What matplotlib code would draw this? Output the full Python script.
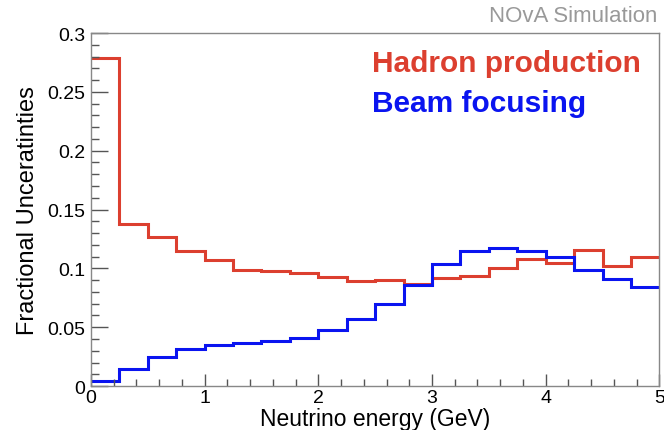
import numpy as np
import matplotlib
matplotlib.use("Agg")
import matplotlib.pyplot as plt
from matplotlib.ticker import MultipleLocator

plt.rcParams["font.family"] = ["Liberation Sans", "DejaVu Sans"]

# Bin edges (GeV) and fractional uncertainties per bin
edges = np.arange(0, 5.0001, 0.25)
hadron = [0.279, 0.138, 0.127, 0.1144, 0.1073, 0.0988, 0.0974, 0.0963, 0.0923, 0.0893,
          0.0905, 0.0866, 0.0917, 0.0934, 0.1000, 0.1076, 0.1048, 0.1155, 0.1020, 0.1093]
beam = [0.0042, 0.0142, 0.0246, 0.0312, 0.0351, 0.0368, 0.0382, 0.0410, 0.0476, 0.0569,
        0.0693, 0.0856, 0.1034, 0.1144, 0.1170, 0.1150, 0.1093, 0.0986, 0.0909, 0.0841]
xticks = [0, 1, 2, 3, 4, 5]
yticks = [0, 0.05, 0.1, 0.15, 0.2, 0.25, 0.3]
ytick_labels = ["0", "0.05", "0.1", "0.15", "0.2", "0.25", "0.3"]

red = "#dc3f2f"
blue = "#0a14f0"

fig = plt.figure(figsize=(6.64, 4.31), dpi=100)
ax = fig.add_axes([0.137, 0.102, 0.856, 0.819])

ax.stairs(hadron, edges, color=red, linewidth=2.2, baseline=None)
ax.stairs(beam, edges, color=blue, linewidth=2.2, baseline=None)

ax.set_xlim(0, 5)
ax.set_ylim(0, 0.3)
ax.set_xticks(xticks)
ax.set_xticklabels([str(t) for t in xticks])
ax.xaxis.set_minor_locator(MultipleLocator(0.2))
ax.set_yticks(yticks)
ax.set_yticklabels(ytick_labels)
ax.yaxis.set_minor_locator(MultipleLocator(0.01))

ax.tick_params(which="both", direction="in", top=False, right=False,
               color="#555555", width=1, labelsize=14)
ax.tick_params(axis="x", which="major", length=9, pad=2)
ax.tick_params(axis="x", which="minor", length=5)
ax.tick_params(axis="y", which="major", length=12, pad=4)
ax.tick_params(axis="y", which="minor", length=6)

for s in ax.spines.values():
    s.set_color("#888888")
    s.set_linewidth(1)

ax.set_xlabel("Neutrino energy (GeV)", fontsize=16.5)
ax.xaxis.set_label_coords(0.5, -0.1105)
ax.xaxis.label.set_verticalalignment("baseline")
ax.set_ylabel("Fractional Unceratinties", fontsize=17)
ax.yaxis.set_label_coords(-0.092, 0.5)

fig.text(0.560, 0.833, "Hadron production", color=red, fontsize=21.5,
         fontweight="bold", va="baseline")
fig.text(0.560, 0.740, "Beam focusing", color=blue, fontsize=21.5,
         fontweight="bold", va="baseline")
fig.text(0.99, 0.948, "NOvA Simulation", color="#999999", fontsize=16,
         ha="right", va="baseline")

fig.savefig("out.png", dpi=100)
